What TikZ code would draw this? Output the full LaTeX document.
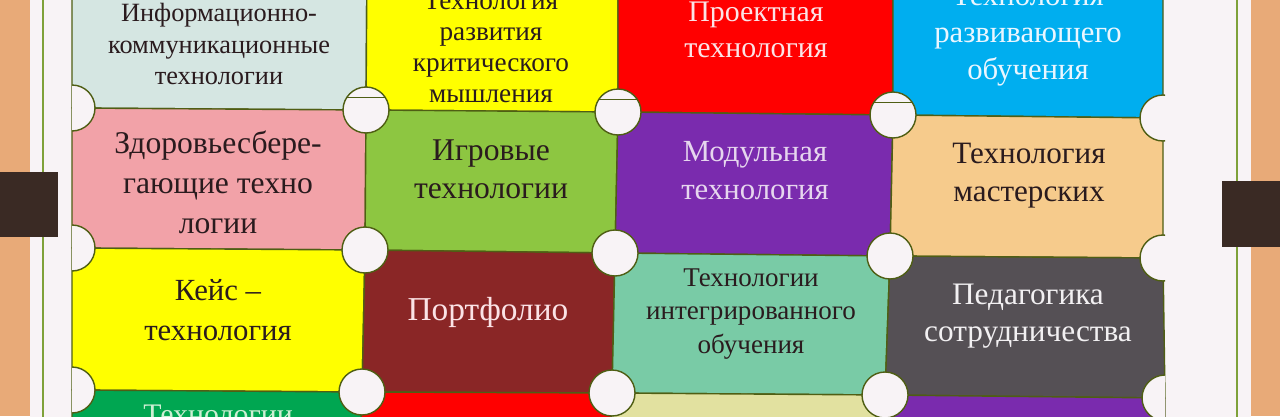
\documentclass[tikz,border=0pt]{standalone}
\usepackage{fontspec}
\setmainfont{Liberation Serif}
\definecolor{wood}{HTML}{E8AA78}
\definecolor{paper}{HTML}{F8F3F6}
\definecolor{clipbrown}{HTML}{3A2A24}
\definecolor{rim}{HTML}{4F5E14}
\definecolor{frame}{HTML}{7FA13A}
\definecolor{ink}{HTML}{2A1B1E}
\definecolor{ictblue}{HTML}{D5E6E2}
\definecolor{lemon}{HTML}{FFFF00}
\definecolor{scarlet}{HTML}{FF0000}
\definecolor{sky}{HTML}{00AEEF}
\definecolor{rose}{HTML}{F2A2A8}
\definecolor{grass}{HTML}{8DC641}
\definecolor{grape}{HTML}{7A2BAE}
\definecolor{apricot}{HTML}{F6CB8C}
\definecolor{claret}{HTML}{8A2626}
\definecolor{mint}{HTML}{79CBA6}
\definecolor{slate}{HTML}{555055}
\definecolor{leaf}{HTML}{00A651}
\definecolor{straw}{HTML}{E2E1A0}
\definecolor{blush}{HTML}{FBE3E6}
\definecolor{frost}{HTML}{EAF6FF}
\definecolor{lilac}{HTML}{E6D6EE}
\definecolor{pale}{HTML}{F2F0F2}
\definecolor{sprout}{HTML}{CDEFD3}
\tikzset{
  cell/.style={draw=rim, line width=0.8pt, line join=round},
  knob/.style={fill=paper, draw=rim, line width=0.8pt},
  lbl/.style={align=center, inner sep=0pt, text=ink}
}

\begin{document}
\begin{tikzpicture}[x=0.02cm, y=-0.02cm]
\useasboundingbox (0,0) rectangle (1280,416);
\clip (0,0) rectangle (1280,416);
\fill[color=wood] (0,0) rectangle (1280,416);
\fill[color=paper] (30,-10) rectangle (1251,430);
\draw[color=frame, line width=0.6pt] (43,-10) -- (43,430);
\draw[color=frame, line width=0.6pt] (1237,-10) -- (1237,430);
\foreach \i/\j/\x/\y in {0/0/72/-40, 0/1/367/-40, 0/2/618/-40, 0/3/893/-40, 0/4/1163/-40,
  1/0/72/108, 1/1/366/110, 1/2/618/112, 1/3/893/115, 1/4/1163/118,
  2/0/72/248, 2/1/365/250, 2/2/615/253, 2/3/890/256, 2/4/1163/258,
  3/0/72/390, 3/1/362/392, 3/2/612/393, 3/3/885/395, 3/4/1165/398,
  4/0/72/460, 4/1/360/460, 4/2/610/460, 4/3/882/460, 4/4/1165/460}
  \coordinate (p-\i-\j) at (\x,\y);
\foreach \i/\j/\tint in {0/0/ictblue, 0/1/lemon, 0/2/scarlet, 0/3/sky,
  1/0/rose, 1/1/grass, 1/2/grape, 1/3/apricot,
  2/0/lemon, 2/1/claret, 2/2/mint, 2/3/slate,
  3/0/leaf, 3/1/scarlet, 3/2/straw, 3/3/grape} {
  \pgfmathtruncatemacro\ii{\i+1}
  \pgfmathtruncatemacro\jj{\j+1}
  \filldraw[cell, fill=\tint] (p-\i-\j) -- (p-\i-\jj) -- (p-\ii-\jj) -- (p-\ii-\j) -- cycle;
}
\begin{scope}
\clip (72,-50) rectangle (1165,470);
\foreach \i in {1,2,3}
  \foreach \j in {0,...,4}
    \filldraw[knob] (p-\i-\j) circle (0.46cm);
\end{scope}
\foreach \j in {1,2,3}
  \draw[color=rim, line width=0.5pt, shift={(p-1-\j)}] (-19,-13) -- (19,-13);
\fill[color=clipbrown] (0,172) rectangle (58,237);
\fill[color=clipbrown] (1222,181) rectangle (1280,247);

\node[lbl, font=\fontsize{15}{18}\selectfont] (ikt) at (219,44) {Информационно-\\коммуникационные\\технологии};
\node[lbl, font=\fontsize{15.5}{17.6}\selectfont] (kritich) at (491,47) {Технология\\развития\\критического\\мышления};
\node[lbl, text=blush, font=\fontsize{17}{20.5}\selectfont] (proekt) at (756,30) {Проектная\\технология};
\node[lbl, text=frost, font=\fontsize{17.5}{21}\selectfont] (razvivay) at (1028,36) {Технология\\развивающего\\обучения};
\node[lbl, font=\fontsize{18}{22.8}\selectfont] (zdorov) at (218,182) {Здоровьесбере-\\гающие техно\\логии};
\node[lbl, font=\fontsize{18}{21.6}\selectfont] (igrov) at (491,169) {Игровые\\технологии};
\node[lbl, text=lilac, font=\fontsize{17.5}{21.6}\selectfont] (modul) at (755,171) {Модульная\\технология};
\node[lbl, font=\fontsize{17.7}{21.6}\selectfont] (master) at (1029,176) {Технология\\мастерских};
\node[lbl, font=\fontsize{17.5}{22.8}\selectfont] (keis) at (218,310) {Кейс –\\технология};
\node[lbl, text=blush, font=\fontsize{19}{22}\selectfont] (portfolio) at (488,312) {Портфолио};
\node[lbl, font=\fontsize{15.4}{19}\selectfont] (integr) at (751,314) {Технологии\\интегрированного\\обучения};
\node[lbl, text=pale, font=\fontsize{17.8}{21}\selectfont] (sotrud) at (1028,316) {Педагогика\\сотрудничества};
\node[lbl, text=sprout, font=\fontsize{17}{21}\selectfont, anchor=north] (tehn) at (218,405) {Технологии};
\end{tikzpicture}
\end{document}
